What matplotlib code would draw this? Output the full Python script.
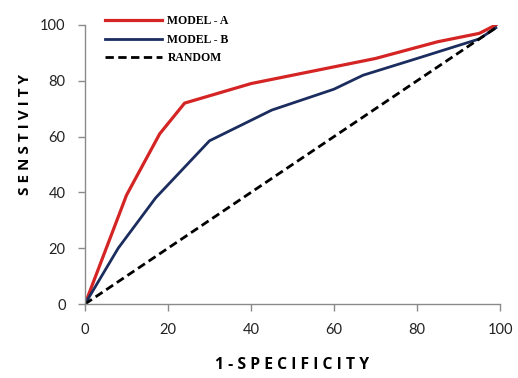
import matplotlib
matplotlib.use("Agg")
import matplotlib.pyplot as plt

# Data
model_a_x = [0, 10, 18, 24, 40, 70, 85, 95, 99]
model_a_y = [0, 39, 61, 72, 79, 88, 94, 97, 100]
model_b_x = [0, 8, 17, 30, 45, 60, 67, 80, 95, 99]
model_b_y = [0, 20, 38, 58.5, 69.5, 77, 82, 88, 95, 99]
random_x = [0, 99]
random_y = [0, 99]
ticks = [0, 20, 40, 60, 80, 100]
series_names = ["MODEL - A", "MODEL - B", "RANDOM"]

fig = plt.figure(figsize=(5.18, 3.78), dpi=100)
ax = fig.add_axes([85/518, 74/378, 415/518, 279/378])

ax.plot(model_a_x, model_a_y, color="#d42424", lw=2.3, label=series_names[0], solid_joinstyle="round")
ax.plot(model_b_x, model_b_y, color="#1b2d5e", lw=2.0, label=series_names[1], solid_joinstyle="round")
ax.plot(random_x, random_y, color="black", lw=2.0, ls=(0, (3, 1.6)), label=series_names[2])

ax.set_xlim(0, 100)
ax.set_ylim(0, 100)
ax.set_xticks(ticks)
ax.set_yticks(ticks)
for s in ["top", "right"]:
    ax.spines[s].set_visible(False)
for s in ["left", "bottom"]:
    ax.spines[s].set_color("#8a8a8a")
    ax.spines[s].set_linewidth(1.0)
ax.tick_params(axis="both", direction="out", length=5, width=1, color="#8a8a8a",
               labelsize=10.5, pad=9, labelcolor="#222222")
for lab in ax.get_xticklabels() + ax.get_yticklabels():
    lab.set_fontfamily("Lato")

ax.set_xlabel("1 - S P E C I F I C I T Y", fontsize=11.3, fontweight="bold",
              fontfamily="Open Sans")
ax.set_ylabel("S E N S T I V I T Y", fontsize=11, fontweight="bold",
              fontfamily="Open Sans")
ax.xaxis.label.set_va("center")
ax.yaxis.label.set_va("center")
ax.xaxis.set_label_coords(0.5, (304 - 365) / 279)
ax.yaxis.set_label_coords((25 - 85) / 415, (304 - 135) / 279)

leg = ax.legend(loc="upper left", bbox_to_anchor=(0.048, 1.035), frameon=False,
                borderpad=0, borderaxespad=0, handlelength=4.8, handletextpad=0.5,
                labelspacing=0.55, prop={"family": "Liberation Serif", "weight": "bold", "size": 8.5})

fig.savefig("out.png", dpi=100)
